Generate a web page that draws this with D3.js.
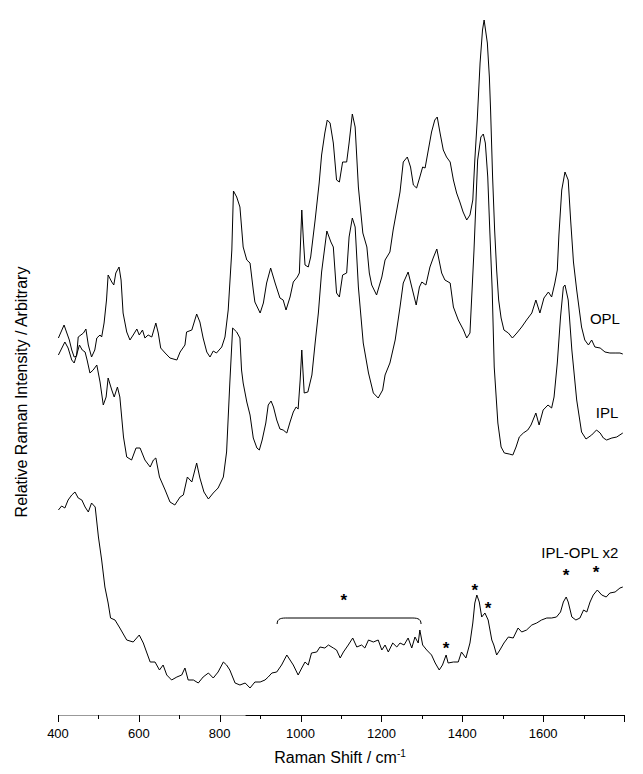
<!DOCTYPE html>
<html>
<head>
<meta charset="utf-8">
<script src="https://cdn.jsdelivr.net/npm/d3@7/dist/d3.min.js"></script>
<style>
  html, body { margin: 0; padding: 0; background: #fff; }
  svg { display: block; }
  text { font-family: "Liberation Sans", Arial, sans-serif; fill: #000; }
</style>
</head>
<body>
<div id="chart"></div>
<script>
// ---------------- DATA (wavenumber cm-1, relative intensity, arbitrary units) ----------------
const oplShift = [401,415,421,428,434,440,446,450,463,469,475,483,491,496,504,508,514,520,524,533,538,543,551,556,561,570,578,586,595,601,609,615,623,632,642,648,654,665,677,694,702,714,718,731,743,751,759,768,776,784,792,805,813,821,830,834,842,850,858,867,875,883,887,900,908,916,926,937,949,957,964,974,982,992,997,1003,1007,1011,1019,1025,1036,1046,1052,1060,1066,1073,1081,1089,1096,1104,1114,1120,1128,1135,1143,1154,1164,1170,1176,1188,1201,1209,1221,1229,1238,1246,1254,1264,1272,1279,1287,1295,1302,1308,1316,1324,1332,1338,1345,1353,1361,1370,1378,1386,1394,1402,1411,1419,1426,1431,1437,1444,1450,1454,1462,1467,1470,1475,1480,1485,1490,1496,1503,1514,1524,1535,1547,1559,1572,1582,1592,1602,1613,1621,1629,1635,1639,1646,1654,1662,1668,1675,1683,1695,1703,1712,1720,1728,1741,1753,1765,1778,1790,1797];
const oplValue = [377,390,383,375,365,358,359,378,382,386,370,358,365,377,380,378,392,415,440,433,430,442,448,435,402,383,375,380,386,380,385,377,380,378,392,382,367,362,357,355,363,370,383,385,401,393,377,363,358,364,362,368,378,405,465,524,518,508,468,455,452,425,413,402,412,432,447,432,417,415,405,418,433,438,442,505,475,450,448,458,495,532,560,582,595,592,572,535,533,553,553,572,601,588,528,482,468,442,430,420,438,455,463,485,505,523,553,558,548,530,527,538,548,547,565,583,595,598,582,565,558,553,535,522,513,503,495,500,515,555,595,652,685,695,672,638,605,538,485,445,415,397,385,382,377,382,388,395,402,415,402,417,423,418,432,445,480,525,543,535,495,453,425,388,375,370,375,368,367,363,362,362,362,361];

const iplShift = [401,417,425,434,440,446,453,460,467,472,479,487,496,504,512,519,524,533,539,547,553,562,570,582,593,603,615,628,636,642,651,665,677,689,702,710,720,731,743,751,761,772,784,796,809,817,825,832,842,850,854,858,867,875,883,892,898,905,914,920,927,933,941,949,957,966,974,982,989,994,999,1003,1009,1018,1028,1036,1044,1052,1065,1075,1081,1089,1096,1104,1114,1120,1128,1135,1143,1155,1168,1180,1192,1203,1209,1221,1234,1246,1254,1266,1275,1286,1294,1300,1310,1320,1328,1337,1349,1357,1370,1378,1390,1403,1411,1419,1429,1438,1446,1452,1457,1463,1468,1474,1479,1488,1496,1504,1516,1525,1533,1541,1551,1562,1570,1582,1590,1600,1612,1621,1627,1635,1643,1650,1654,1662,1671,1683,1695,1706,1720,1732,1741,1749,1757,1770,1782,1797];
const iplValue = [360,373,367,355,352,360,370,365,363,355,342,345,350,333,310,318,337,325,318,328,318,278,258,255,267,267,255,248,255,257,238,225,213,210,218,220,238,233,252,237,223,216,222,227,238,263,332,387,383,377,345,332,313,300,277,267,265,275,292,310,314,308,295,286,285,282,293,303,308,306,335,365,322,323,340,372,402,443,484,473,468,422,418,440,442,478,497,488,428,372,342,322,317,325,340,352,375,408,432,443,428,410,428,433,430,448,457,466,442,435,432,408,395,385,377,382,465,555,578,581,572,538,485,425,348,292,268,262,261,260,268,278,282,285,290,302,290,305,310,307,318,352,398,428,430,415,365,315,283,276,280,285,282,277,275,277,278,282];

const diffShift = [401,409,417,425,434,442,450,459,467,475,483,492,500,508,516,524,530,541,553,570,586,601,611,619,628,640,651,660,669,681,694,706,714,722,735,747,759,772,784,796,809,817,825,838,850,863,875,887,900,912,920,929,941,953,966,974,982,994,1003,1011,1019,1027,1040,1048,1060,1069,1081,1089,1098,1106,1118,1129,1139,1151,1159,1168,1180,1192,1201,1209,1217,1228,1238,1246,1256,1266,1275,1283,1291,1295,1302,1312,1324,1333,1343,1351,1360,1365,1378,1390,1398,1409,1419,1426,1431,1436,1442,1448,1456,1464,1473,1478,1485,1493,1503,1514,1526,1538,1547,1559,1572,1584,1596,1609,1621,1633,1643,1650,1657,1662,1671,1681,1691,1700,1708,1716,1724,1734,1745,1756,1765,1778,1790,1797];
const diffValue = [205,209,207,215,220,223,217,215,208,203,212,208,178,155,128,112,97,95,87,75,73,80,72,63,53,53,45,50,40,35,38,40,47,35,35,32,38,42,37,43,53,50,45,32,30,32,27,33,33,35,38,42,43,50,60,55,50,40,47,53,50,62,63,68,67,70,67,65,57,63,70,77,68,70,67,75,73,75,65,70,63,72,68,72,70,77,67,78,72,85,70,65,60,52,45,50,60,52,53,53,63,57,72,92,112,120,113,98,102,95,75,70,60,65,72,78,77,87,83,85,90,92,95,97,97,98,103,113,118,113,98,95,97,105,103,113,120,125,120,118,122,123,127,128];

const seriesNames = ["OPL", "IPL", "IPL-OPL x2"];
const labelShift = [1790, 1786, 1786];
const labelValue = [391, 297, 157];

const starShift = [1107, 1360, 1431, 1464, 1657, 1731];
const starValue = [118, 70, 128, 110, 143, 146];

const bracketShift = [942, 1298];
const bracketValue = [91, 97];

const xTicks = [400, 600, 800, 1000, 1200, 1400, 1600];
const xMinorTicks = [500, 700, 900, 1100, 1300, 1500, 1700];
const xEndTick = [1800];
const xTitle = "Raman Shift / cm";
const xTitleSup = "-1";
const yTitle = "Relative Raman Intensity / Arbitrary";

// ---------------- CHART ----------------
const W = 643, H = 774;
const svg = d3.select("#chart").append("svg").attr("width", W).attr("height", H);

const x = d3.scaleLinear().domain([400, 1800]).range([58, 624]);
const y = d3.scaleLinear().domain([0, 700]).range([715, 15]);
const axisY = 715;

const line = d3.line().x(d => x(d[0])).y(d => y(d[1]));

const series = [
  d3.zip(oplShift, oplValue),
  d3.zip(iplShift, iplValue),
  d3.zip(diffShift, diffValue)
];

svg.append("g").selectAll("path").data(series).join("path")
  .attr("d", line)
  .attr("fill", "none")
  .attr("stroke", "#000")
  .attr("stroke-width", 1)
  .attr("stroke-linejoin", "round");

// series labels
svg.append("g").selectAll("text").data(seriesNames).join("text")
  .attr("x", (d, i) => x(labelShift[i]))
  .attr("y", (d, i) => y(labelValue[i]))
  .attr("text-anchor", "end")
  .attr("font-size", 15)
  .text(d => d);

// stars
svg.append("g").selectAll("text").data(starShift).join("text")
  .attr("x", (d) => x(d))
  .attr("y", (d, i) => y(starValue[i]) + 9)
  .attr("text-anchor", "middle")
  .attr("font-size", 17)
  .attr("font-weight", "bold")
  .text("*");

// bracket
{
  const x0 = x(bracketShift[0]), x1 = x(bracketShift[1]);
  const yt = y(bracketValue[1]), yb = y(bracketValue[0]);
  const p = d3.path();
  p.moveTo(x0, yb);
  p.bezierCurveTo(x0, yt, x0 + 5, yt, x0 + 10, yt);
  p.lineTo(x1 - 10, yt);
  p.bezierCurveTo(x1 - 5, yt, x1, yt, x1, yb);
  svg.append("path").attr("d", p.toString()).attr("fill", "none")
    .attr("stroke", "#000").attr("stroke-width", 1);
}

// x axis
const gx = svg.append("g").attr("transform", `translate(0,${axisY})`);
gx.append("line").attr("x1", x(400)).attr("x2", x(1800)).attr("y1", 0.5).attr("y2", 0.5)
  .attr("stroke", "#000").attr("stroke-width", 1);
gx.append("line").attr("x1", x(400)).attr("x2", x(864)).attr("y1", 0.5).attr("y2", 0.5)
  .attr("stroke", "#999").attr("stroke-width", 1);
gx.selectAll(".maj").data(xTicks.concat(xEndTick)).join("line").attr("class", "maj")
  .attr("x1", d => Math.round(x(d)) + 0.5).attr("x2", d => Math.round(x(d)) + 0.5)
  .attr("y1", 0).attr("y2", 7).attr("stroke", "#000");
gx.selectAll(".min").data(xMinorTicks).join("line").attr("class", "min")
  .attr("x1", d => Math.round(x(d)) + 0.5).attr("x2", d => Math.round(x(d)) + 0.5)
  .attr("y1", 0).attr("y2", 4).attr("stroke", "#000");
gx.selectAll(".tl").data(xTicks).join("text").attr("class", "tl")
  .attr("x", d => x(d)).attr("y", 23)
  .attr("text-anchor", "middle")
  .attr("font-size", 13)
  .text(d => d);

const tt = svg.append("text").attr("x", 340).attr("y", 763)
  .attr("text-anchor", "middle").attr("font-size", 16);
tt.append("tspan").text(xTitle);
tt.append("tspan").attr("font-size", 10).attr("dy", -6).text(xTitleSup);

svg.append("text")
  .attr("transform", "translate(27,392) rotate(-90)")
  .attr("text-anchor", "middle")
  .attr("font-size", 16)
  .text(yTitle);
</script>
</body>
</html>
